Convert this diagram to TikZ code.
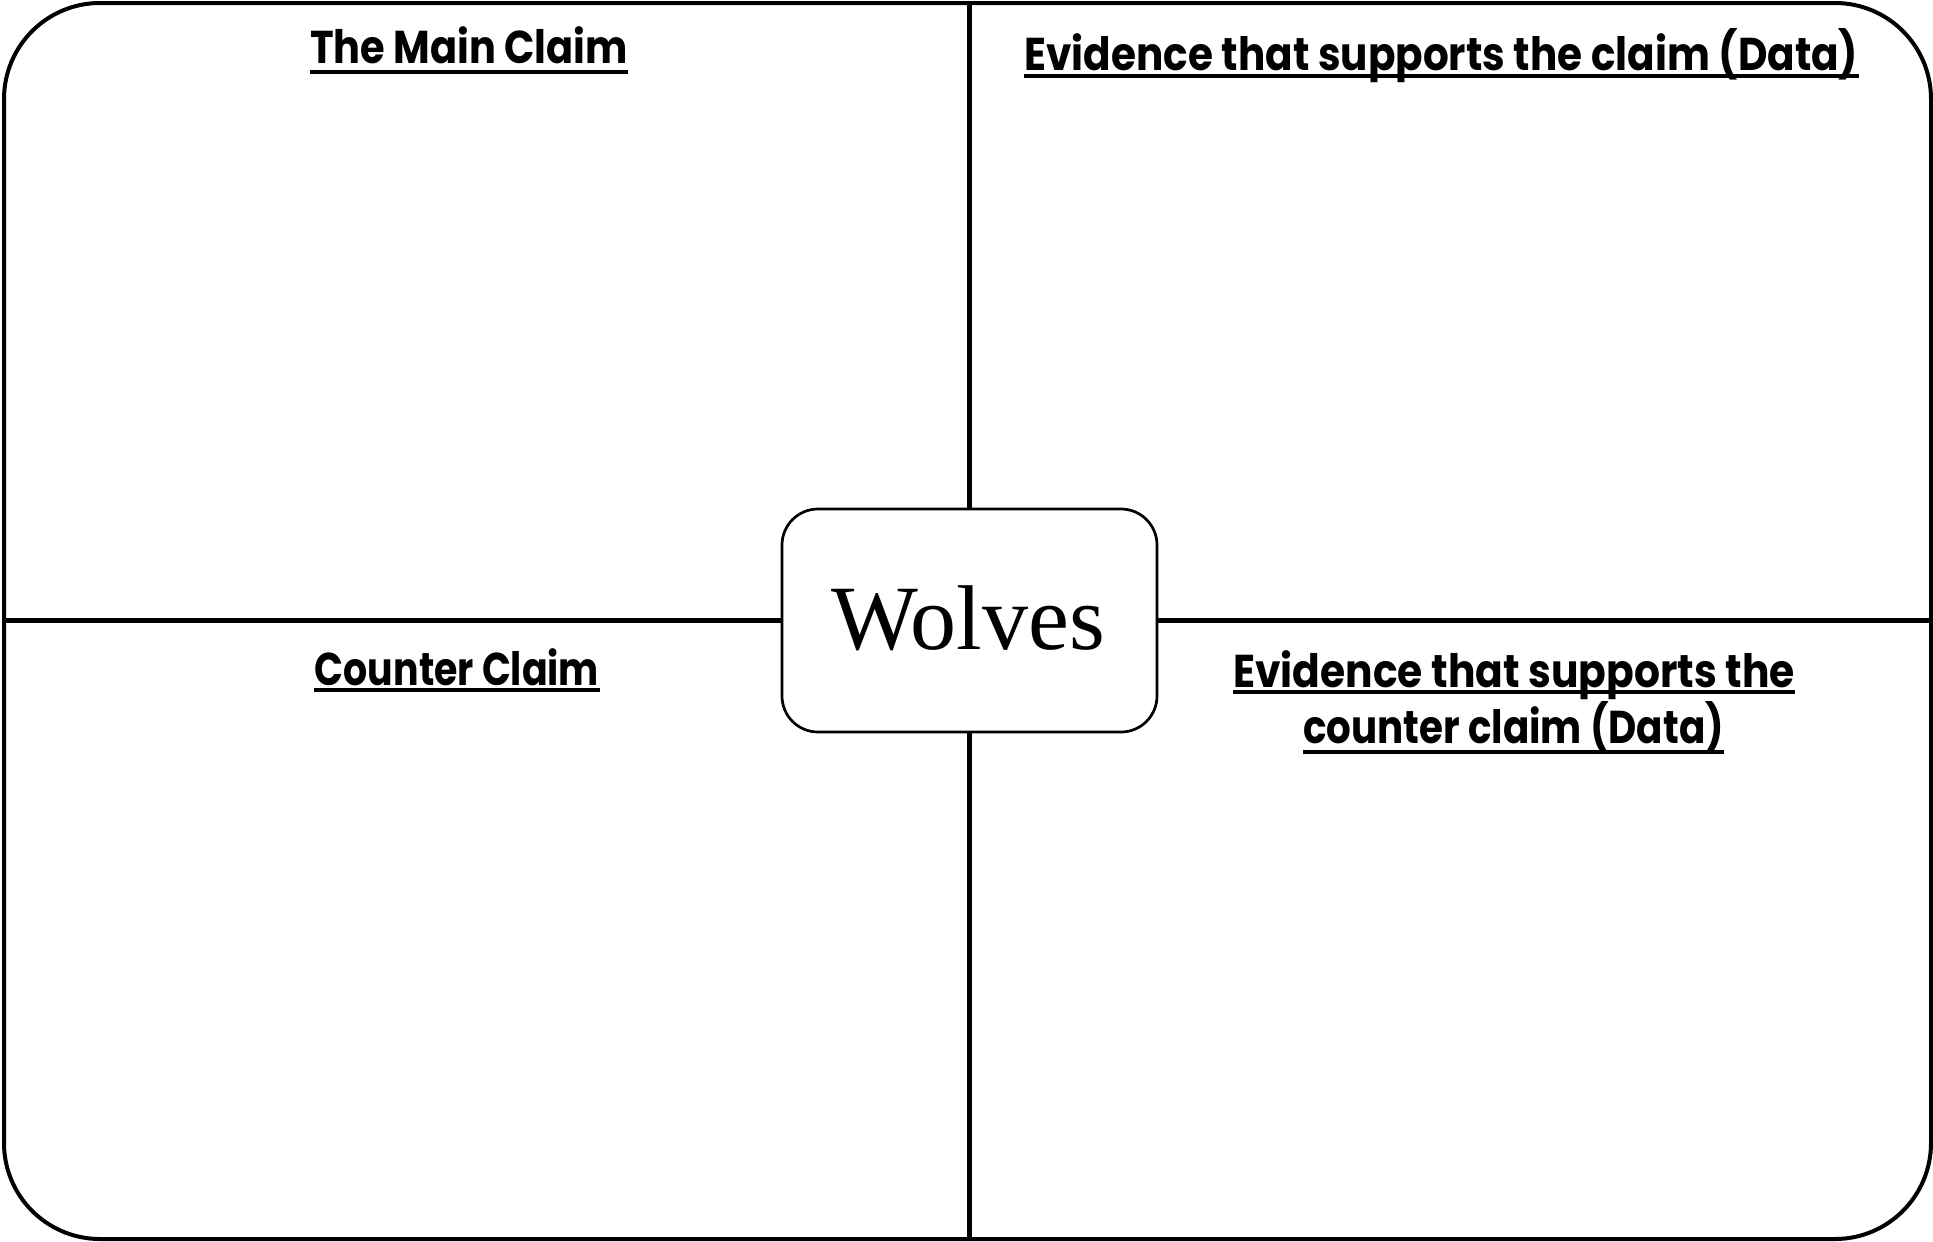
\documentclass[tikz,border=0pt]{standalone}
\usepackage{fontspec}
\setmainfont{Liberation Serif}
\newfontfamily\headfont{Poppins}
\usetikzlibrary{calc}
\tikzset{
  frame/.style={draw, line width=2pt, rounded corners=48pt, minimum width=963.5pt, minimum height=618pt, inner sep=0pt},
  centerbox/.style={draw, line width=1.35pt, rounded corners=18pt, minimum width=187.5pt, minimum height=111.5pt, inner sep=0pt, fill=white},
  divider/.style={line width=2.3pt},
  heading/.style={inner sep=0pt, anchor=base, font=\headfont\bfseries\fontsize{23}{27}\selectfont},
  uline/.style={line width=2pt},
}
\begin{document}
\begin{tikzpicture}[x=0.5pt, y=-0.5pt]
\useasboundingbox (0,0) rectangle (1933,1242);
\node[frame] (frame) at (967.5,621) {};
\node[centerbox] (wolves) at (969.5,620.5) {};
\node[inner sep=0pt, anchor=base, font=\fontsize{46}{50}\selectfont] (wtext) at (968,649) {Wolves};
% dividers
\draw[divider] (frame.north -| wolves.north) -- (wolves.north);
\draw[divider] (wolves.south) -- (frame.south -| wolves.south);
\draw[divider] (frame.west |- wolves.west) -- (wolves.west);
\draw[divider] (wolves.east) -- (frame.east |- wolves.east);
% headings
\node[heading] (h1) at (469,63) {\scalebox{0.868}[1]{The Main Claim}};
\draw[uline] ([yshift=-4.5pt]h1.base west) -- ([yshift=-4.5pt]h1.base east);
\node[heading] (h2) at (1441.5,70) {\scalebox{0.881}[1]{Evidence that supports the claim (Data)}};
\draw[uline] ([yshift=-3pt]h2.base west) -- ([yshift=-3pt]h2.base east);
\node[heading] (h3) at (457,685) {\scalebox{0.824}[1]{Counter Claim}};
\draw[uline] ([yshift=-2.5pt]h3.base west) -- ([yshift=-2.5pt]h3.base east);
\node[heading] (h4a) at (1514,687) {\scalebox{0.887}[1]{Evidence that supports the}};
\draw[uline] ([yshift=-2.5pt]h4a.base west) -- ([yshift=-2.5pt]h4a.base east);
\node[heading] (h4b) at (1513.5,743) {\scalebox{0.844}[1]{counter claim (Data)}};
\draw[uline] ([yshift=-4.5pt]h4b.base west) -- ([yshift=-4.5pt]h4b.base east);
\end{tikzpicture}
\end{document}
